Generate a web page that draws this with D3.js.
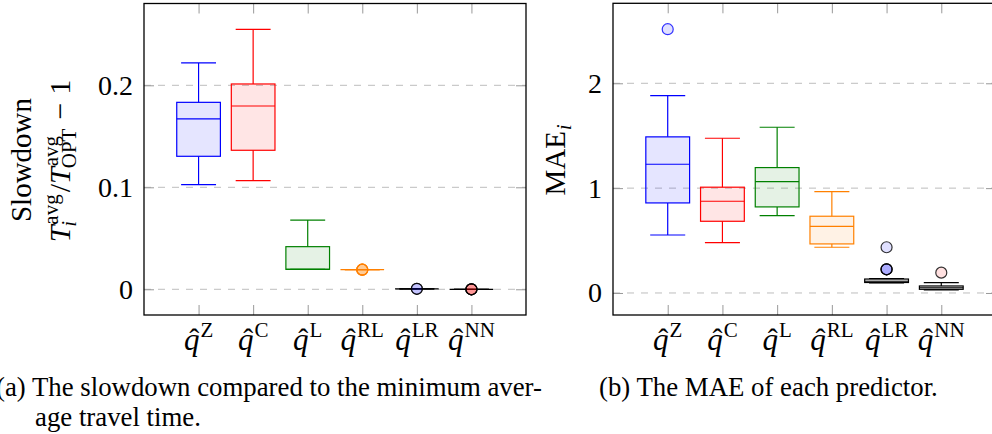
<!DOCTYPE html>
<html><head><meta charset="utf-8">
<script src="https://cdn.jsdelivr.net/npm/d3@7"></script>
<style>
body{margin:0;background:#fff;}
svg{display:block;}
svg text{font-family:"Liberation Serif","DejaVu Serif","Times New Roman",Times,serif;}
</style></head><body>
<svg id="fig" width="992" height="434"></svg>
<script>
var predictors = ["Z", "C", "L", "RL", "LR", "NN"];

// (a) slowdown, five-number summaries per predictor
var slowLow  = [0.1026, 0.1065, 0.0196, 0.0192, 0.0005, 0.0];
var slowQ1   = [0.1304, 0.1363, 0.0196, 0.0192, 0.0005, 0.0];
var slowMed  = [0.1670, 0.1797, 0.0196, 0.0192, 0.0005, 0.0];
var slowQ3   = [0.1833, 0.2013, 0.0418, 0.0192, 0.0005, 0.0];
var slowHigh = [0.2219, 0.2549, 0.0679, 0.0192, 0.0005, 0.0];
var slowOut  = [[], [], [], [0.0192, 0.0192, 0.0192, 0.0192], [0.0005, 0.0005], [0, 0, 0, 0]];
var slowTicks = [0, 0.1, 0.2];

// (b) MAE
var maeLow  = [0.553, 0.480, 0.738, 0.436, 0.095, 0.030];
var maeQ1   = [0.859, 0.684, 0.821, 0.468, 0.100, 0.035];
var maeMed  = [1.228, 0.875, 1.062, 0.636, 0.112, 0.050];
var maeQ3   = [1.489, 1.009, 1.196, 0.732, 0.133, 0.067];
var maeHigh = [1.883, 1.476, 1.581, 0.967, 0.138, 0.098];
var maeOut  = [[2.516], [], [], [], [0.436, 0.226, 0.226, 0.226], [0.194]];
var maeTicks = [0, 1, 2];

var lineColor = ["#0000ff", "#ff0000", "#008000", "#ff8000", "#000000", "#000000"];
var markFill  = ["#0000ff", "#ff0000", "#008000", "#ff8000", "#0000ff", "#ff0000"];

var svg = d3.select("#fig");

function drawPanel(p) {
    var x = d3.scaleLinear().domain([0, 7]).range([p.left, p.right]);
    var y = d3.scaleLinear().domain(p.yDomain).range([315, p.top]);
    var g = svg.append("g");

    // dashed grid
    g.selectAll("line.grid").data(p.ticks).enter().append("line")
        .attr("x1", p.left).attr("x2", p.right)
        .attr("y1", function (d) { return y(d); }).attr("y2", function (d) { return y(d); })
        .attr("stroke", "#bdbdbd").attr("stroke-width", 1).attr("stroke-dasharray", "7,7");

    // tick marks
    var cats = d3.range(1, predictors.length + 1);
    function styleAxis(sel) {
        sel.attr("font-family", null);
        sel.select(".domain").remove();
        sel.selectAll(".tick line").attr("stroke", "#999").attr("stroke-width", 1);
    }
    g.append("g").attr("transform", "translate(0,315)")
        .call(d3.axisBottom(x).tickValues(cats).tickSize(-10).tickFormat("")).call(styleAxis);
    g.append("g").attr("transform", "translate(0," + p.top + ")")
        .call(d3.axisTop(x).tickValues(cats).tickSize(-10).tickFormat("")).call(styleAxis);
    g.append("g").attr("transform", "translate(" + p.right + ",0)")
        .call(d3.axisRight(y).tickValues(p.ticks).tickSize(-10).tickFormat("")).call(styleAxis);
    var ya = g.append("g").attr("transform", "translate(" + p.left + ",0)")
        .call(d3.axisLeft(y).tickValues(p.ticks).tickSize(-10).tickPadding(11).tickFormat(d3.format("~g")))
        .call(styleAxis);
    ya.selectAll(".tick text").attr("fill", "#000").style("font-size", "28px");

    // boxes
    var boxW = x(0.4) - x(0), capW = x(0.32) - x(0);
    predictors.forEach(function (name, i) {
        var cx = x(i + 1), col = lineColor[i];
        var b = g.append("g").attr("stroke", col).attr("stroke-width", 1.2);
        b.append("line").attr("x1", cx).attr("x2", cx).attr("y1", y(p.q3[i])).attr("y2", y(p.high[i]));
        b.append("line").attr("x1", cx).attr("x2", cx).attr("y1", y(p.q1[i])).attr("y2", y(p.low[i]));
        b.append("line").attr("x1", cx - capW).attr("x2", cx + capW).attr("y1", y(p.high[i])).attr("y2", y(p.high[i]));
        b.append("line").attr("x1", cx - capW).attr("x2", cx + capW).attr("y1", y(p.low[i])).attr("y2", y(p.low[i]));
        b.append("rect").attr("x", cx - boxW).attr("width", 2 * boxW)
            .attr("y", y(p.q3[i])).attr("height", y(p.q1[i]) - y(p.q3[i]))
            .attr("fill", col).attr("fill-opacity", 0.1);
        b.append("line").attr("x1", cx - boxW).attr("x2", cx + boxW).attr("y1", y(p.med[i])).attr("y2", y(p.med[i]));
        b.selectAll("circle").data(p.out[i]).enter().append("circle")
            .attr("cx", cx).attr("cy", function (d) { return y(d); }).attr("r", 5.5)
            .attr("fill", markFill[i]).attr("fill-opacity", 0.12)
            .attr("stroke-opacity", 0.8).attr("stroke-width", 1.2);
    });

    // frame
    g.append("rect").attr("x", p.left).attr("y", p.top)
        .attr("width", p.right - p.left).attr("height", 315 - p.top)
        .attr("fill", "none").attr("stroke", "#000").attr("stroke-width", 1.3);

    // category labels  q-hat with superscript
    predictors.forEach(function (name, i) {
        var lg = g.append("g").attr("transform", "translate(" + x(i + 1) + ",350)");
        var t = lg.append("text").style("font-size", "31px");
        t.append("tspan").style("font-style", "italic").text("q");
        t.append("tspan").attr("dx", 1).attr("dy", -13).style("font-size", "21px").text(name);
        var w = t.node().getComputedTextLength() + 1;
        var qw = t.node().getSubStringLength(0, 1);
        t.attr("x", -w / 2);
        lg.append("text").attr("x", -w / 2 + qw / 2 + 2.5).attr("y", -1)
            .attr("text-anchor", "middle").style("font-size", "30px").text("\u02C6");
    });
    return g;
}

drawPanel({left: 144, right: 526, top: 3.5, yDomain: [-0.0252, 0.2802], ticks: slowTicks,
    low: slowLow, q1: slowQ1, med: slowMed, q3: slowQ3, high: slowHigh, out: slowOut});
drawPanel({left: 613, right: 996, top: 3.3, yDomain: [-0.21, 2.763], ticks: maeTicks,
    low: maeLow, q1: maeQ1, med: maeMed, q3: maeQ3, high: maeHigh, out: maeOut});

// axis titles
function piece(g, txt, px, py, size, italic) {
    var t = g.append("text").attr("x", px).attr("y", py)
        .style("font-size", size + "px").style("font-style", italic ? "italic" : "normal").text(txt);
    return t.node().getComputedTextLength();
}
svg.append("text").attr("transform", "translate(31,160) rotate(-90)")
    .attr("text-anchor", "middle").style("font-size", "29px").text("Slowdown");

var fg = svg.append("g").attr("transform", "translate(70,161) rotate(-90)");
var inner = fg.append("g");
var cur = 0, a, b;
cur += piece(inner, "T", cur, 0, 30, true);
a = piece(inner, "avg", cur + 1, -12, 21); b = piece(inner, "i", cur - 1, 6, 21, true);
cur += Math.max(a, b) + 3;
cur += piece(inner, "/", cur, 0, 30);
cur += piece(inner, "T", cur, 0, 30, true);
a = piece(inner, "avg", cur + 1, -12, 21); b = piece(inner, "OPT", cur - 1, 6, 21);
cur += Math.max(a, b) + 8;
cur += piece(inner, "\u2212", cur, 0, 30) + 8;
cur += piece(inner, "1", cur, 0, 30);
inner.attr("transform", "translate(" + (-cur / 2) + ",0)");

var mg = svg.append("g").attr("transform", "translate(565,160) rotate(-90)");
var minner = mg.append("g");
var mc = piece(minner, "MAE", 0, 0, 29);
mc += piece(minner, "i", mc + 1, 6, 20, true) + 1;
minner.attr("transform", "translate(" + (-mc / 2) + ",0)");

// captions
svg.append("text").attr("x", -4).attr("y", 396).style("font-size", "26.8px")
    .text("(a) The slowdown compared to the minimum aver-");
svg.append("text").attr("x", 35).attr("y", 426).style("font-size", "26.8px")
    .text("age travel time.");
svg.append("text").attr("x", 599).attr("y", 396).style("font-size", "26.8px")
    .text("(b) The MAE of each predictor.");
</script>
</body></html>
